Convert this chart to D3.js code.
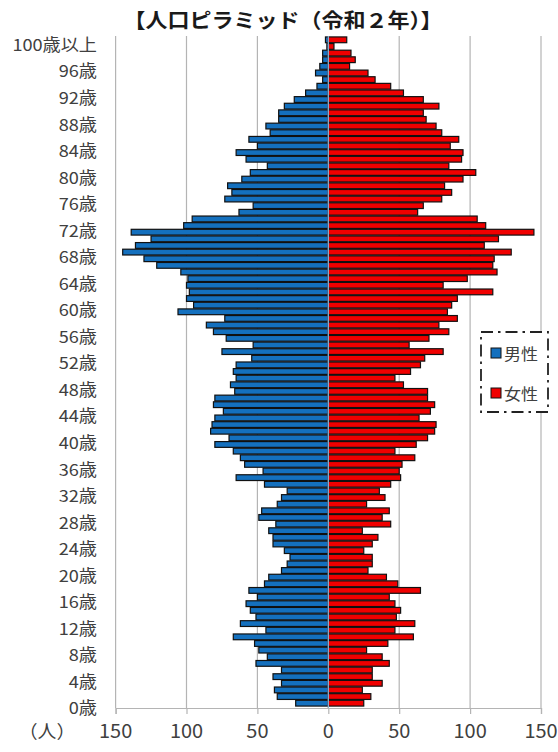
<!DOCTYPE html>
<html><head><meta charset="utf-8">
<script src="https://cdn.jsdelivr.net/npm/d3@7"></script>
<style>body{margin:0;background:#fff}svg{display:block}</style>
</head><body>
<script>
// ---- data (age 0 .. 100歳以上) ----
const ageLabels = d3.range(0, 100).map(a => a + "歳").concat(["100歳以上"]);
const male = [23,36,38,33,39,33,51,43,49,52,67,44,62,51,55,58,50,56,45,42,
  33,29,27,31,39,39,42,37,49,47,36,33,29,45,65,46,59,62,67,80,
  70,83,82,80,74,81,80,66,69,65,67,65,54,75,53,72,81,86,73,106,
  95,100,98,100,99,104,121,130,145,136,125,139,102,96,63,53,73,68,71,61,
  55,43,58,65,50,56,41,44,35,35,31,24,16,8,4,9,6,4,4,1,2];
const female = [25,30,24,38,31,31,43,38,27,42,60,47,61,48,51,47,43,65,49,41,
  28,31,31,25,31,35,24,44,38,43,27,40,36,44,51,50,52,61,47,62,
  70,75,76,64,72,75,70,70,53,47,58,65,68,81,57,71,85,78,91,84,
  87,91,116,81,98,119,116,117,129,110,120,145,111,105,63,67,80,87,82,95,
  104,85,94,95,86,92,80,76,69,67,78,67,53,44,33,28,15,19,16,4,13];
const xTicks = [-150, -100, -50, 0, 50, 100, 150];
const shownAgeLabels = ageLabels.filter((d, i) => i % 4 === 0);
const seriesNames = ["男性", "女性"];
const seriesColors = ["#1470be", "#f00000"];
const titleText = "【人口ピラミッド（令和２年）】";
const unitText = "（人）";

// ---- chart ----
const W = 558, H = 752;
const FONT = "'Noto Sans CJK JP','Noto Sans',sans-serif";
const SX = 1.1; // horizontal stretch of the original picture's text
const svg = d3.select("body").append("svg").attr("width", W).attr("height", H)
  .style("font-family", FONT);
svg.append("rect").attr("width", W).attr("height", H).attr("fill", "#fff");

const x = d3.scaleLinear().domain([-150, 150]).range([115.6, 541]);
const y = d3.scaleBand().domain(ageLabels.slice().reverse())
  .range([36.5, 706.5]).paddingInner(0.13).paddingOuter(0.065);
const plotTop = 36, plotBottom = 708;

function stext(g, tx, ty, str, opts) {
  const t = g.append("text")
    .attr("transform", `translate(${tx},${ty}) scale(${opts.sx || SX},1)`)
    .attr("text-anchor", opts.anchor || "middle")
    .attr("dominant-baseline", "central")
    .attr("font-size", opts.size)
    .attr("fill", opts.fill || "#404040")
    .text(str);
  if (opts.weight) t.attr("font-weight", opts.weight);
  return t;
}

// gridlines
svg.append("g").selectAll("line").data(xTicks).join("line")
  .attr("x1", d => x(d)).attr("x2", d => x(d))
  .attr("y1", plotTop).attr("y2", plotBottom)
  .attr("stroke", "#b4b4b4").attr("stroke-width", 1.2);

// x axis
const ax = svg.append("g").attr("transform", `translate(0,${plotBottom})`)
  .call(d3.axisBottom(x).tickValues(xTicks).tickFormat(d => Math.abs(d)).tickSize(6));
ax.select(".domain").attr("stroke", "#b4b4b4").attr("stroke-width", 1.2);
ax.selectAll(".tick line").attr("stroke", "#b4b4b4").attr("stroke-width", 1.2);
ax.selectAll(".tick text").remove();
xTicks.forEach(d => stext(svg, x(d), 730, Math.abs(d), {size: 19, fill: "#404040", sx: 1.05}));

// bars
const data = ageLabels.map((a, i) => ({age: a, m: male[i], f: female[i]}));
const bars = svg.append("g");
bars.selectAll("rect.m").data(data).join("rect").attr("class", "m")
  .attr("x", d => x(-d.m)).attr("width", d => x(0) - x(-d.m))
  .attr("y", d => y(d.age)).attr("height", y.bandwidth())
  .attr("fill", seriesColors[0]).attr("stroke", "#111").attr("stroke-width", 1.2);
bars.selectAll("rect.f").data(data).join("rect").attr("class", "f")
  .attr("x", x(0)).attr("width", d => x(d.f) - x(0))
  .attr("y", d => y(d.age)).attr("height", y.bandwidth())
  .attr("fill", seriesColors[1]).attr("stroke", "#111").attr("stroke-width", 1.2);

// vertical category axis line at 0
svg.append("line").attr("x1", x(0)).attr("x2", x(0))
  .attr("y1", plotTop).attr("y2", plotBottom)
  .attr("stroke", "#8fb3d6").attr("stroke-width", 1.3);

// y labels
shownAgeLabels.forEach(a => {
  stext(svg, 97, y(a) + y.bandwidth() / 2 + 4, a, {size: 16.5, anchor: "end", fill: "#404040"});
});

// title
stext(svg, 283, 19, titleText, {size: 20, weight: "bold", fill: "#1a1a1a", sx: 1.1});
// unit
stext(svg, 47, 730, unitText, {size: 18, fill: "#404040", sx: 1.05});

// legend
const lg = svg.append("g");
lg.append("rect").attr("x", 481).attr("y", 332).attr("width", 67).attr("height", 80)
  .attr("fill", "#fff").attr("stroke", "#222").attr("stroke-width", 1.8)
  .attr("stroke-dasharray", "12,5,2.5,5");
seriesNames.forEach((n, i) => {
  const cy = 353 + i * 40;
  lg.append("rect").attr("x", 491).attr("y", cy - 5).attr("width", 10).attr("height", 10)
    .attr("fill", seriesColors[i]).attr("stroke", "#111").attr("stroke-width", 1);
  stext(lg, 504, cy, n, {size: 15.5, anchor: "start", fill: "#404040"});
});
</script>
</body></html>
